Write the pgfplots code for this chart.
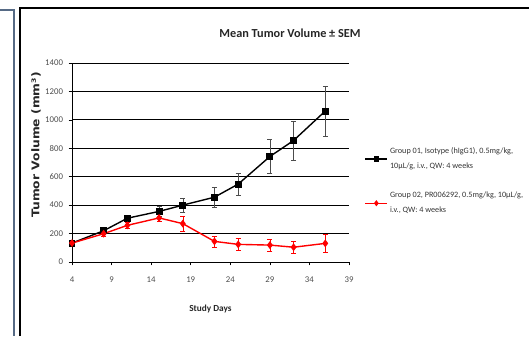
\documentclass[border=0pt]{standalone}
\usepackage{pgfplots}
\pgfplotsset{compat=1.18}
\usepackage{fontspec}
\setmainfont{Carlito}
\newfontfamily\dejavu{DejaVu Sans}
\definecolor{panelblue}{HTML}{566A85}
\definecolor{redline}{HTML}{FF0000}
\begin{document}
\begin{tikzpicture}[x=1bp,y=1bp]
\path[use as bounding box] (0,0) rectangle (529,336);
\draw[panelblue,line width=2.2bp] (0,326) -- (14,326) -- (14,0);
\draw[black,line width=1.4bp] (20,0) -- (20,328) -- (529,328);
\node[font=\fontsize{12.3}{13}\selectfont\bfseries, text=black!85] at (290,303) {Mean Tumor Volume ± SEM};
\begin{axis}[
  at={(72bp,74bp)}, anchor=south west,
  scale only axis, width=277bp, height=199bp,
  xmin=4, xmax=39, ymin=0, ymax=1400,
  xtick={4,9,14,19,24,29,34,39},
  ytick={0,200,400,600,800,1000,1200,1400},
  axis x line*=bottom, axis y line*=left,
  ymajorgrids, grid style={black,line width=1pt},
  major tick length=3.5pt,
  tick align=outside,
  tick style={black,line width=0.6pt},
  axis line style={black,line width=0.8pt,-},
  ticklabel style={font=\fontsize{8.8}{9}\selectfont, text=black!70},
  xticklabel style={yshift=-8bp},
  yticklabel style={xshift=-2bp},
  /pgf/number format/assume math mode=true,
  /pgf/number format/1000 sep={},
  xlabel={\textbf{Study Days}},
  xlabel style={font=\fontsize{9.3}{10}\selectfont, text=black!85, at={(axis description cs:0.5,-0.235)}, anchor=center},
  ylabel={\scalebox{1.3}[1.12]{\dejavu\bfseries Tumor Volume (mm³)}},
  ylabel style={font=\fontsize{9.5}{10}\selectfont, text=black!85, at={(axis description cs:-0.13,0.588)}, anchor=center},
  clip=false,
  legend style={at={(1.045,0.595)}, anchor=north west, draw=none, fill=none,
    font=\fontsize{8.2}{15}\selectfont, row sep=18bp, text=black!80,
    cells={anchor=west, align=left}},
  legend cell align=left,
  legend image code/.code={\draw[#1, mark repeat=2, mark phase=2, mark size=2pt] plot coordinates {(0bp,0bp)(11bp,0bp)(22bp,0bp)};},
]
\addplot[black, line width=1.4pt, mark=square*, mark size=2.8pt,
  error bars/.cd, y dir=both, y explicit,
  error bar style={black!70,line width=0.6pt}, error mark options={rotate=90,mark size=2.5pt,black!70}]
  coordinates {
  (4,133) +- (0,15)
  (8,220) +- (0,15)
  (11,308) +- (0,20)
  (15,356) +- (0,35)
  (18,400) +- (0,52)
  (22,456) +- (0,67)
  (25,548) +- (0,80)
  (29,742) +- (0,120)
  (32,855) +- (0,137)
  (36,1062) +- (0,175)
  };
\addlegendentry{Group 01, Isotype (hIgG1), 0.5mg/kg,\\10µL/g, i.v., QW: 4 weeks}
\addplot[redline, line width=1.4pt, mark=diamond*, mark size=2.8pt,
  error bars/.cd, y dir=both, y explicit,
  error bar style={redline,line width=0.6pt}, error mark options={rotate=90,mark size=2.5pt,redline}]
  coordinates {
  (4,133) +- (0,15)
  (8,199) +- (0,15)
  (11,258) +- (0,20)
  (15,310) +- (0,25)
  (18,270) +- (0,50)
  (22,145) +- (0,38)
  (25,124) +- (0,44)
  (29,119) +- (0,43)
  (32,104) +- (0,45)
  (36,131) +- (0,65)
  };
\addlegendentry{Group 02, PR006292, 0.5mg/kg, 10µL/g,\\i.v., QW: 4 weeks}
\end{axis}
\end{tikzpicture}
\end{document}
